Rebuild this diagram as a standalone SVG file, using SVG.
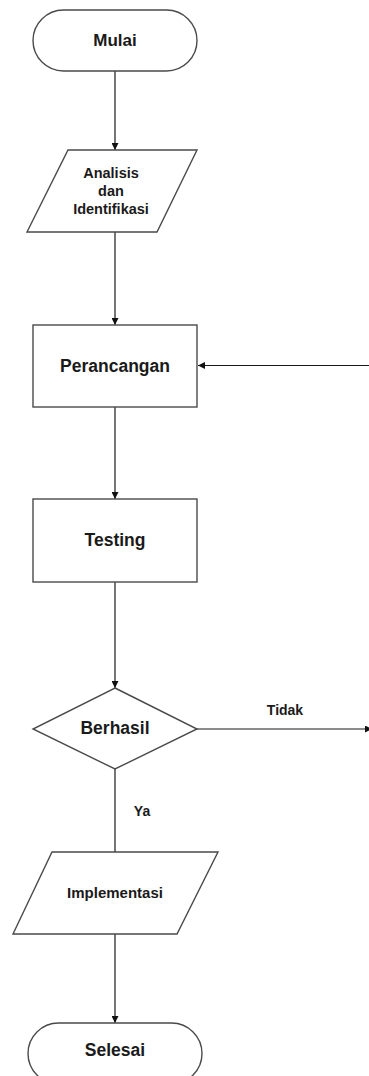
<svg xmlns="http://www.w3.org/2000/svg" width="369" height="1076" viewBox="0 0 369 1076">
<style>
.shape{fill:#fff;stroke:#4a4a4a;stroke-width:1.4}
.lbl{font-family:"Liberation Sans",Arial,sans-serif;font-weight:bold;fill:#1a1a1a;text-anchor:middle;dominant-baseline:central}
.conn{stroke:#1a1a1a;stroke-width:1.2;fill:none}
</style>
<defs>
<marker id="ah" viewBox="0 0 10 10" refX="10" refY="5" markerWidth="7" markerHeight="7" markerUnits="userSpaceOnUse" orient="auto">
<path d="M0,0 L10,5 L0,10 z" fill="#111"/>
</marker>
</defs>
<rect width="369" height="1076" fill="#fff"/>
<g id="connectors">
<line class="conn" x1="115" y1="71" x2="115" y2="150" marker-end="url(#ah)"/>
<line class="conn" x1="115" y1="232" x2="115" y2="325" marker-end="url(#ah)"/>
<line class="conn" x1="115" y1="407" x2="115" y2="499" marker-end="url(#ah)"/>
<line class="conn" x1="115" y1="582" x2="115" y2="688" marker-end="url(#ah)"/>
<line class="conn" x1="115" y1="769" x2="115" y2="852"/>
<line class="conn" x1="115" y1="934" x2="115" y2="1023" marker-end="url(#ah)"/>
<line class="conn" x1="197" y1="729" x2="372" y2="729" marker-end="url(#ah)"/>
<line class="conn" x1="369" y1="365.5" x2="198" y2="365.5" marker-end="url(#ah)"/>
<text class="lbl" x="285" y="710" font-size="14">Tidak</text>
<text class="lbl" x="142" y="811" font-size="14">Ya</text>
</g>
<g id="mulai">
<rect class="shape" x="33" y="10" width="164" height="61" rx="30.5"/>
<text class="lbl" x="115" y="40.5" font-size="17">Mulai</text>
</g>
<g id="analisis">
<polygon class="shape" points="68,150 197,150 157,232 27,232"/>
<text class="lbl" font-size="14.5"><tspan x="111" y="173">Analisis</tspan><tspan x="111" y="191">dan</tspan><tspan x="111" y="209">Identifikasi</tspan></text>
</g>
<g id="perancangan">
<rect class="shape" x="33" y="325" width="164" height="82"/>
<text class="lbl" x="115" y="366" font-size="17.5">Perancangan</text>
</g>
<g id="testing">
<rect class="shape" x="33" y="499" width="164" height="83"/>
<text class="lbl" x="115" y="540" font-size="17.5">Testing</text>
</g>
<g id="berhasil">
<polygon class="shape" points="115,688 197,729 115,769 33,729"/>
<text class="lbl" x="115" y="728" font-size="17.5">Berhasil</text>
</g>
<g id="implementasi">
<polygon class="shape" points="52,852 218,852 177,934 13,934"/>
<text class="lbl" x="115" y="892" font-size="15">Implementasi</text>
</g>
<g id="selesai">
<rect class="shape" x="28" y="1023" width="174" height="61" rx="30.5"/>
<text class="lbl" x="115" y="1050" font-size="17.5">Selesai</text>
</g>
</svg>
